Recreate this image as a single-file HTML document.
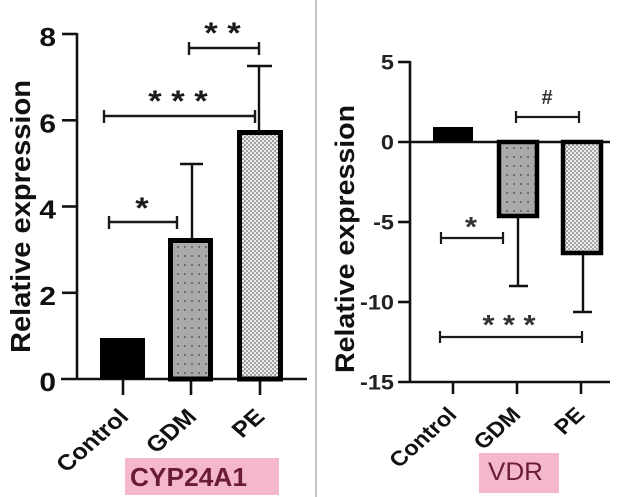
<!DOCTYPE html>
<html><head><meta charset="utf-8"><style>
html,body{margin:0;padding:0;background:#fff;}
svg{display:block;}
text{font-family:"Liberation Sans",Arial,sans-serif;}
</style></head><body>
<svg width="628" height="497" viewBox="0 0 628 497" xmlns="http://www.w3.org/2000/svg">
<defs>
  <pattern id="pg" width="7" height="9" patternUnits="userSpaceOnUse">
    <rect width="7" height="9" fill="#aaaaaa"/>
    <rect x="2" y="3" width="2" height="2" fill="#6e6e6e"/>
  </pattern>
  <pattern id="pp" width="4" height="4" patternUnits="userSpaceOnUse">
    <rect width="4" height="4" fill="#ececec"/>
    <rect x="0" y="0" width="2" height="2" fill="#a2a2a2"/>
    <rect x="2" y="2" width="2" height="2" fill="#a2a2a2"/>
  </pattern>
</defs>
<rect width="628" height="497" fill="#fff"/>

<!-- divider -->
<line x1="316" y1="0" x2="316" y2="497" stroke="#b5b5b5" stroke-width="1.6"/>

<!-- ================= LEFT CHART ================= -->
<g stroke="#111" stroke-width="2.6" fill="none">
  <line x1="77" y1="33" x2="77" y2="380"/>
  <line x1="61" y1="379" x2="307" y2="379"/>
  <line x1="62" y1="34" x2="77" y2="34"/>
  <line x1="62" y1="120.3" x2="77" y2="120.3"/>
  <line x1="62" y1="206.5" x2="77" y2="206.5"/>
  <line x1="62" y1="292.8" x2="77" y2="292.8"/>
  <line x1="123" y1="379" x2="123" y2="395"/>
  <line x1="191" y1="379" x2="191" y2="395"/>
  <line x1="260" y1="379" x2="260" y2="395"/>
</g>
<g font-size="26" font-weight="bold" fill="#111" text-anchor="end">
  <text transform="translate(56,46) scale(1.15,1)">8</text>
  <text transform="translate(56,132.5) scale(1.15,1)">6</text>
  <text transform="translate(56,218.5) scale(1.15,1)">4</text>
  <text transform="translate(56,305) scale(1.15,1)">2</text>
  <text transform="translate(56,391) scale(1.15,1)">0</text>
</g>
<text transform="translate(30,216.5) scale(1.15,1) rotate(-90)" text-anchor="middle" font-size="24" font-weight="bold" fill="#111" textLength="273" lengthAdjust="spacingAndGlyphs">Relative expression</text>

<!-- bars -->
<rect x="100" y="338" width="45" height="41" fill="#000"/>
<rect x="170.5" y="240.5" width="40" height="138.5" fill="url(#pg)" stroke="#000" stroke-width="5"/>
<rect x="239.5" y="132.5" width="41" height="246.5" fill="url(#pp)" stroke="#000" stroke-width="5"/>

<!-- error bars -->
<g stroke="#111" stroke-width="2.4">
  <line x1="192" y1="238" x2="192" y2="164"/>
  <line x1="180" y1="164" x2="203" y2="164"/>
  <line x1="259" y1="130" x2="259" y2="66"/>
  <line x1="247" y1="66" x2="272" y2="66"/>
</g>

<!-- significance brackets -->
<g stroke="#1a1a1a" stroke-width="2.4">
  <line x1="109" y1="222" x2="177" y2="222"/>
  <line x1="109" y1="216" x2="109" y2="229"/>
  <line x1="177" y1="216" x2="177" y2="229"/>
  <line x1="104" y1="116" x2="255" y2="116"/>
  <line x1="104" y1="110" x2="104" y2="123"/>
  <line x1="255" y1="110" x2="255" y2="123"/>
  <line x1="189" y1="48" x2="259" y2="48"/>
  <line x1="189" y1="42" x2="189" y2="55"/>
  <line x1="259" y1="42" x2="259" y2="55"/>
</g>
<g font-size="30" font-weight="bold" fill="#1a1a1a" text-anchor="middle">
  <text transform="translate(142,218) scale(1.15,1)">*</text>
  <text transform="translate(178,111) scale(1.15,1)">* * *</text>
  <text transform="translate(222.5,43) scale(1.15,1)">* *</text>
</g>

<!-- x labels -->
<g font-size="22" font-weight="bold" fill="#111" text-anchor="end">
  <text transform="translate(130,418) scale(1.15,1) rotate(-45)">Control</text>
  <text transform="translate(198,418) scale(1.15,1) rotate(-45)">GDM</text>
  <text transform="translate(266,418) scale(1.15,1) rotate(-45)">PE</text>
</g>

<!-- title -->
<rect x="125" y="458" width="154" height="37" fill="#f5b8ca"/>
<text x="130" y="486" font-size="26" font-weight="bold" fill="#6a1b35" textLength="117" lengthAdjust="spacingAndGlyphs">CYP24A1</text>

<!-- ================= RIGHT CHART ================= -->
<g stroke="#111" stroke-width="2.6" fill="none">
  <line x1="410" y1="61" x2="410" y2="383"/>
  <line x1="398" y1="142" x2="610" y2="142"/>
  <line x1="398" y1="382" x2="610" y2="382"/>
  <line x1="398" y1="62" x2="410" y2="62"/>
  <line x1="398" y1="222" x2="410" y2="222"/>
  <line x1="398" y1="302" x2="410" y2="302"/>
  <line x1="453" y1="382" x2="453" y2="394"/>
  <line x1="517" y1="382" x2="517" y2="394"/>
  <line x1="581" y1="382" x2="581" y2="394"/>
</g>
<g font-size="21" font-weight="bold" fill="#222" text-anchor="end">
  <text transform="translate(394,69.5) scale(1.12,1)">5</text>
  <text transform="translate(394,149.5) scale(1.12,1)">0</text>
  <text transform="translate(394,229.5) scale(1.12,1)">-5</text>
  <text transform="translate(394,309.5) scale(1.12,1)">-10</text>
  <text transform="translate(394,389.5) scale(1.12,1)">-15</text>
</g>
<text transform="translate(354,239) scale(1.15,1) rotate(-90)" text-anchor="middle" font-size="23" font-weight="bold" fill="#111" textLength="268" lengthAdjust="spacingAndGlyphs">Relative expression</text>

<!-- bars -->
<rect x="433" y="127" width="40" height="15" fill="#000"/>
<rect x="499" y="142" width="38" height="74" fill="url(#pg)" stroke="#000" stroke-width="4.5"/>
<rect x="563" y="142" width="38" height="111" fill="url(#pp)" stroke="#000" stroke-width="4.5"/>

<!-- error bars -->
<g stroke="#111" stroke-width="2.4">
  <line x1="518" y1="218" x2="518" y2="286"/>
  <line x1="509" y1="286" x2="528" y2="286"/>
  <line x1="583" y1="255" x2="583" y2="312"/>
  <line x1="573" y1="312" x2="592" y2="312"/>
</g>

<!-- brackets -->
<g stroke="#1a1a1a" stroke-width="2.2">
  <line x1="516" y1="117" x2="579" y2="117"/>
  <line x1="516" y1="111" x2="516" y2="123"/>
  <line x1="579" y1="111" x2="579" y2="123"/>
  <line x1="441" y1="238" x2="503" y2="238"/>
  <line x1="441" y1="232" x2="441" y2="244"/>
  <line x1="503" y1="232" x2="503" y2="244"/>
  <line x1="440" y1="337" x2="582" y2="337"/>
  <line x1="440" y1="331" x2="440" y2="343"/>
  <line x1="582" y1="331" x2="582" y2="343"/>
</g>
<g font-size="28" font-weight="bold" fill="#333" text-anchor="middle">
  <text transform="translate(471,236) scale(1.1,1)">*</text>
  <text transform="translate(509,334) scale(1.1,1)">* * *</text>
</g>
<text x="547" y="104" font-size="20" font-weight="bold" fill="#333" text-anchor="middle">#</text>

<!-- x labels -->
<g font-size="21" font-weight="bold" fill="#111" text-anchor="end">
  <text transform="translate(458,416) scale(1.12,1) rotate(-45)">Control</text>
  <text transform="translate(522,416) scale(1.12,1) rotate(-45)">GDM</text>
  <text transform="translate(586,416) scale(1.12,1) rotate(-45)">PE</text>
</g>

<!-- title -->
<rect x="479" y="453" width="80" height="40" fill="#f5b8ca"/>
<text x="488" y="480" font-size="25" fill="#6a1b35" textLength="55" lengthAdjust="spacingAndGlyphs">VDR</text>
</svg>
</body></html>
